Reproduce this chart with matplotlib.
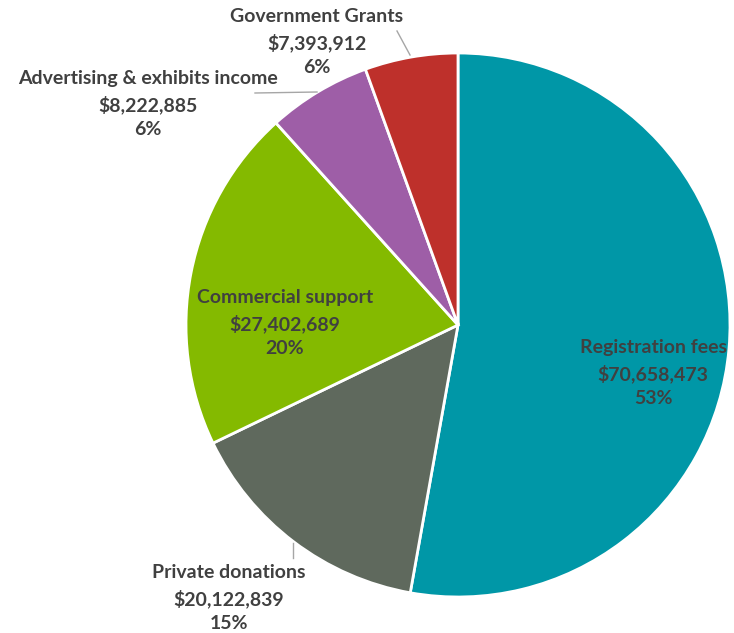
import matplotlib.pyplot as plt

# Dane
kategorie = ['Registration fees', 'Private donations', 'Commercial support',
             'Advertising & exhibits income', 'Government Grants']
wartosci = [70658473, 20122839, 27402689, 8222885, 7393912]
kolory = ['#0097A7', '#5F695D', '#84BA00', '#9E5EA7', '#BE302B']

plt.rcParams['font.family'] = ['Lato', 'DejaVu Sans']

W, H = 734, 633
fig = plt.figure(figsize=(W / 100, H / 100), dpi=100)

# pie center (458, 325) px, radius 272 px
cx, cy, r = 458, 325, 272
ax = fig.add_axes([(cx - r) / W, (H - cy - r) / H, 2 * r / W, 2 * r / H])

ax.pie(wartosci, colors=kolory, startangle=90, counterclock=False, radius=1,
       wedgeprops=dict(edgecolor='white', linewidth=2))
ax.set_xlim(-1, 1)
ax.set_ylim(-1, 1)
ax.set_aspect('equal')
ax.axis('off')


def px(x, y):
    return ((x - cx) / r, (cy - y) / r)


suma = sum(wartosci)
# pozycje etykiet (px)
pozycje = [(653, 373), (229, 598), (285, 323), (148, 104), (317, 42)]
for nazwa, v, (x, y) in zip(kategorie, wartosci, pozycje):
    tekst = f'{nazwa}\n${v:,.0f}\n{v / suma * 100:.0f}%'
    ax.text(*px(x, y), tekst, ha='center', va='center', fontsize=14,
            fontweight='bold', color='#404040', linespacing=1.52,
            clip_on=False)

# linie odniesienia
linie = [[(397, 31), (410, 55)], [(255, 93), (317, 92)], [(293, 543), (293, 558)]]
for (x0, y0), (x1, y1) in linie:
    a, b = px(x0, y0), px(x1, y1)
    ax.plot([a[0], b[0]], [a[1], b[1]], color='#A6A6A6', lw=1, clip_on=False)

fig.savefig('out.png', dpi=100)
